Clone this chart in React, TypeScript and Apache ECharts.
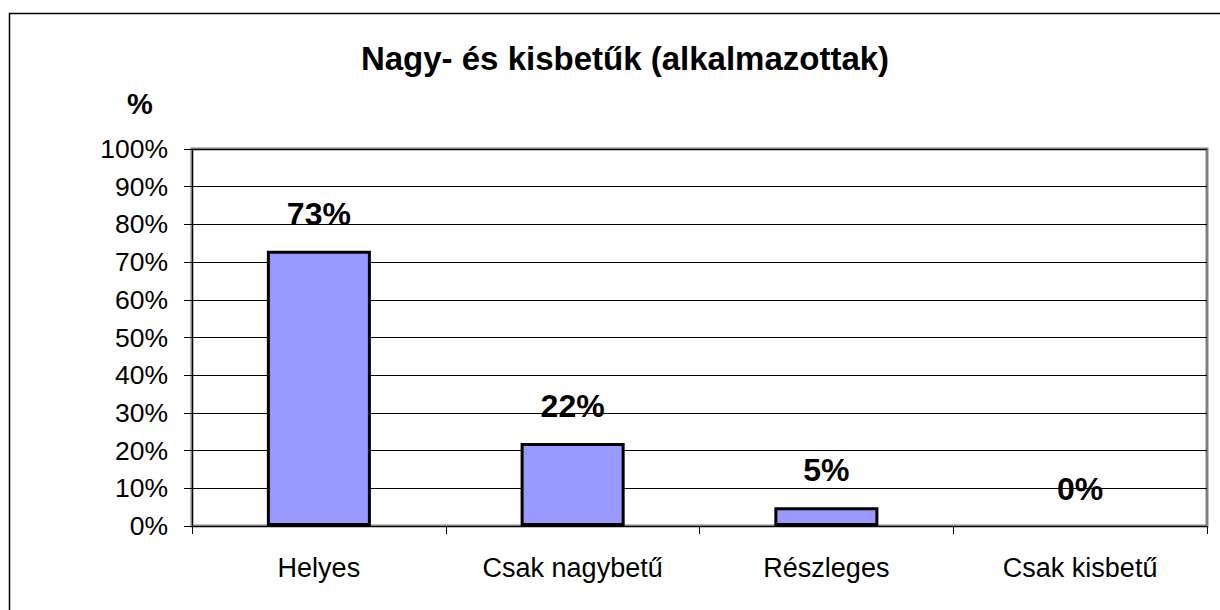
import React, { useEffect, useRef } from "react";
import * as echarts from "echarts";

const categories = ["Helyes", "Csak nagybetű", "Részleges", "Csak kisbetű"];
const values = [73, 22, 5, 0];
const titleText = "Nagy- és kisbetűk (alkalmazottak)";
const yAxisName = "%";

const FONT = "Liberation Sans, Arial, sans-serif";

export default function App() {
  const ref = useRef<HTMLDivElement>(null);
  useEffect(() => {
    if (!ref.current) return;
    const chart = echarts.init(ref.current, null, { renderer: "svg" });
    chart.setOption({
      animation: false,
      backgroundColor: "#ffffff",
      textStyle: { fontFamily: FONT },
      title: {
        text: titleText,
        left: 620,
        top: 37,
        textAlign: "center",
        textStyle: { fontSize: 33, fontWeight: "bold", color: "#000", fontFamily: FONT },
      },
      graphic: [
        {
          type: "rect",
          shape: { x: 9.5, y: 13.5, width: 1300, height: 700 },
          style: { fill: "none", stroke: "#000", lineWidth: 1.5 },
          silent: true,
          z: 100,
        },
        {
          type: "text",
          left: 127,
          top: 89,
          style: { text: yAxisName, fontSize: 29, fontWeight: "bold", fill: "#000", fontFamily: FONT },
          silent: true,
        },
      ],
      grid: {
        left: 192,
        right: 13,
        top: 149,
        bottom: 84,
        show: true,
        borderColor: "#808080",
        borderWidth: 3,
        backgroundColor: "transparent",
      },
      xAxis: {
        type: "category",
        data: categories,
        axisLine: { show: true, lineStyle: { color: "#000", width: 1 } },
        axisTick: { show: true, length: 8, lineStyle: { color: "#000" } },
        axisLabel: { fontSize: 27, color: "#000", margin: 28, fontFamily: FONT },
      },
      yAxis: {
        type: "value",
        min: 0,
        max: 100,
        interval: 10,
        axisLine: { show: true, lineStyle: { color: "#000", width: 1 } },
        axisTick: { show: true, length: 8, lineStyle: { color: "#000" } },
        axisLabel: { fontSize: 26.5, color: "#000", margin: 24, formatter: "{value}%", fontFamily: FONT },
        splitLine: { show: true, lineStyle: { color: "#000", width: 1 } },
      },
      series: [
        {
          type: "bar",
          data: values.map((v) =>
            v === 0 ? { value: v, itemStyle: { borderWidth: 0 } } : v
          ),
          barWidth: "41%",
          itemStyle: { color: "#9999FF", borderColor: "#000", borderWidth: 3 },
          label: {
            show: true,
            position: "top",
            distance: 21,
            formatter: "{c}%",
            fontSize: 32,
            fontWeight: "bold",
            color: "#000",
            fontFamily: FONT,
          },
        },
      ],
    });
    return () => chart.dispose();
  }, []);
  return (
    <div
      ref={ref}
      style={{ position: "absolute", left: 0, top: 0, width: 1220, height: 610 }}
    />
  );
}
